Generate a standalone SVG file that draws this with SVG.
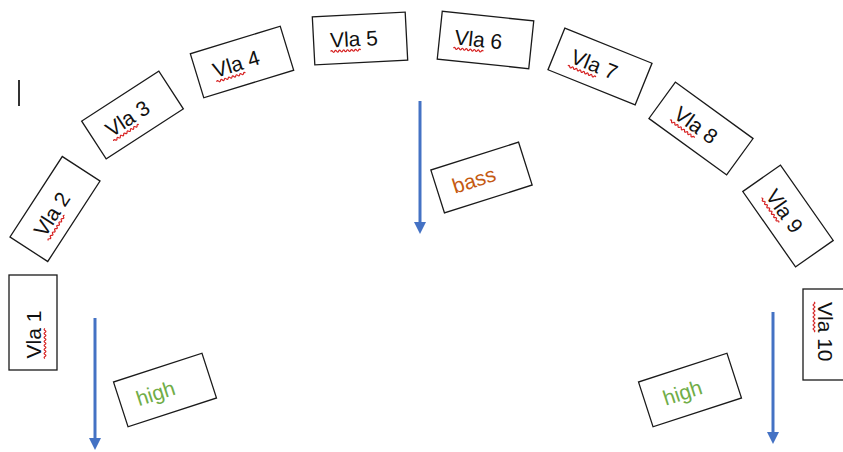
<svg xmlns="http://www.w3.org/2000/svg" xmlns:xlink="http://www.w3.org/1999/xlink" width="843" height="452" viewBox="0 0 843 452">
<style>
  .box { fill: #fff; stroke: #1a1a1a; stroke-width: 1.3; }
  .lbl { font-family: "Liberation Sans", Arial, sans-serif; font-size: 21px; fill: #111; }
  .bass { fill: #C55A11; }
  .high { fill: #70AD47; }
  .wave { fill: none; stroke: #D62020; stroke-width: 1.2; }
  .arrow { stroke: #4472C4; stroke-width: 3; fill: none; }
</style>
<defs>
  <marker id="ah" markerUnits="userSpaceOnUse" markerWidth="12" markerHeight="12" refX="0" refY="6" orient="auto">
    <path d="M0,0 L12,6 L0,12 z" fill="#4472C4"/>
  </marker>
  <path id="wave" class="wave" d="M0,0 q1,-1.8 2,0 t2,0 t2,0 t2,0 t2,0 t2,0 t2,0 t2,0 t2,0 t2,0 t2,0 t2,0 t2,0 t2,0 t2,0"/>
</defs>
<rect width="843" height="452" fill="#fff"/>
<line x1="19" y1="80" x2="19" y2="106" stroke="#333" stroke-width="2"/>
<g id="connectors">
  <line class="arrow" x1="420" y1="101" x2="420" y2="222" marker-end="url(#ah)"/>
  <line class="arrow" x1="95" y1="318" x2="95" y2="438" marker-end="url(#ah)"/>
  <line class="arrow" x1="773" y1="312" x2="773" y2="432" marker-end="url(#ah)"/>
</g>
<g id="vla1" transform="translate(33,322.5) rotate(-90)">
  <rect class="box" x="-47.5" y="-24" width="95" height="48"/>
  <text class="lbl" x="-36" y="8">Vla 1</text>
  <use xlink:href="#wave" x="-36" y="12"/>
</g>
<g id="vla2" transform="translate(55,209) rotate(-57)">
  <rect class="box" x="-48" y="-22.5" width="96" height="45"/>
  <text class="lbl" x="-30" y="7.5">Vla 2</text>
  <use xlink:href="#wave" x="-30" y="11.5"/>
</g>
<g id="vla3" transform="translate(132.5,115) rotate(-33)">
  <rect class="box" x="-46" y="-22.5" width="92" height="45"/>
  <text class="lbl" x="-30" y="7.5">Vla 3</text>
  <use xlink:href="#wave" x="-30" y="11.5"/>
</g>
<g id="vla4" transform="translate(242,62) rotate(-17)">
  <rect class="box" x="-47" y="-23" width="94" height="46"/>
  <text class="lbl" x="-30" y="7.5">Vla 4</text>
  <use xlink:href="#wave" x="-30" y="11.5"/>
</g>
<g id="vla5" transform="translate(360,38.5) rotate(-3)">
  <rect class="box" x="-46.5" y="-24" width="93" height="48"/>
  <text class="lbl" x="-30" y="7.5">Vla 5</text>
  <use xlink:href="#wave" x="-30" y="11.5"/>
</g>
<g id="vla6" transform="translate(485.5,40) rotate(6)">
  <rect class="box" x="-46" y="-24" width="92" height="48"/>
  <text class="lbl" x="-31" y="7.5">Vla 6</text>
  <use xlink:href="#wave" x="-31" y="11.5"/>
</g>
<g id="vla7" transform="translate(600,66.5) rotate(22)">
  <rect class="box" x="-47" y="-22.5" width="94" height="45"/>
  <text class="lbl" x="-30" y="7.5">Vla 7</text>
  <use xlink:href="#wave" x="-30" y="11.5"/>
</g>
<g id="vla8" transform="translate(701,128.5) rotate(36)">
  <rect class="box" x="-48" y="-22.5" width="96" height="45"/>
  <text class="lbl" x="-30" y="7.5">Vla 8</text>
  <use xlink:href="#wave" x="-30" y="11.5"/>
</g>
<g id="vla9" transform="translate(788,216) rotate(55)">
  <rect class="box" x="-46" y="-23" width="92" height="46"/>
  <text class="lbl" x="-30" y="7.5">Vla 9</text>
  <use xlink:href="#wave" x="-30" y="11.5"/>
</g>
<g id="vla10" transform="translate(826,334.5) rotate(90)">
  <rect class="box" x="-45.5" y="-23" width="91" height="46"/>
  <text class="lbl" x="-32.5" y="8">Vla 10</text>
  <use xlink:href="#wave" x="-32.5" y="12"/>
</g>
<g id="bass" transform="translate(481.5,177.5) rotate(-17.6)">
  <rect class="box" x="-46" y="-22.5" width="92" height="45"/>
  <text class="lbl bass" x="-8" y="7.5" text-anchor="middle">bass</text>
</g>
<g id="high1" transform="translate(165,390) rotate(-18)">
  <rect class="box" x="-46.5" y="-23.5" width="93" height="47"/>
  <text class="lbl high" x="-10" y="7.5" text-anchor="middle">high</text>
</g>
<g id="high2" transform="translate(690,390) rotate(-18)">
  <rect class="box" x="-46.5" y="-23.5" width="93" height="47"/>
  <text class="lbl high" x="-8" y="7.5" text-anchor="middle">high</text>
</g>
</svg>
